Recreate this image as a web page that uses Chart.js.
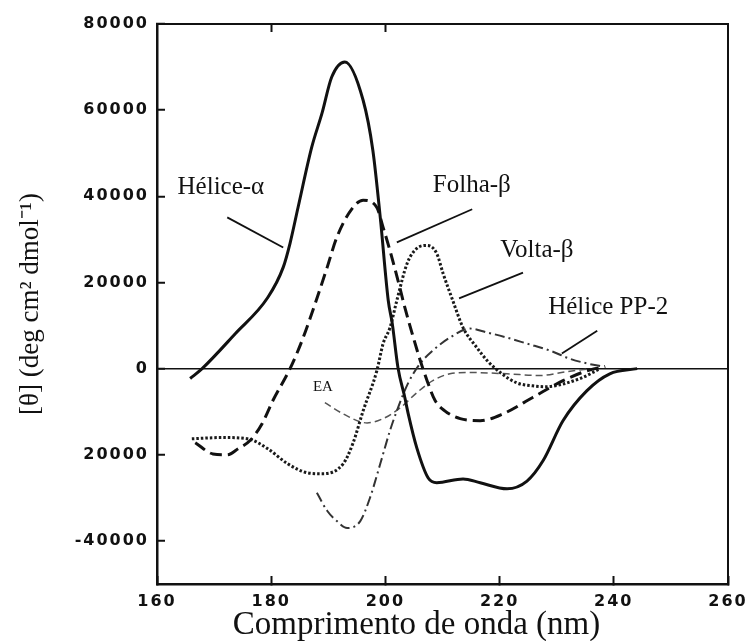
<!DOCTYPE html>
<html lang="pt">
<head>
<meta charset="UTF-8">
<title>Espectros de dicroísmo circular</title>
<script src="https://cdn.jsdelivr.net/npm/chart.js"></script>
<style>
  body { margin: 0; background: #fff; }
  #wrap { width: 748px; height: 641px; }
</style>
</head>
<body>
<div id="wrap"><canvas id="cdChart"></canvas></div>
<script>
  // comprimento de onda (nm) e elipticidade molar [θ] de cada estrutura
  const alfaNm = [165.8, 167.9, 173.7, 179.4, 182.1, 183.3, 184.7, 187.1, 188.9, 190.6, 192.9, 196.1, 197.8, 199.1, 200.5, 201.2, 202.2, 203.4, 204.0, 205.5, 207.5, 209.0, 213.6, 216.6, 221.3, 224.8, 227.6, 231.1, 235.3, 239.3, 244.1];
  const alfaTheta = [-2300, 0, 8100, 16500, 23500, 29100, 37400, 51400, 59300, 67700, 71200, 62300, 50700, 35100, 15800, 10500, 230, -6700, -10500, -18400, -25400, -26500, -25600, -26500, -27900, -26100, -21400, -12100, -5100, -1200, 0];

  const folhaNm = [166.7, 169.8, 172.3, 174.2, 176.3, 178.4, 180.3, 183.3, 185.4, 187.7, 189.8, 191.5, 194.2, 196.1, 198.5, 199.6, 200.8, 202.2, 203.4, 204.7, 206.1, 207.3, 208.7, 210.4, 213.1, 216.6, 220.6, 225.8, 231.1, 235.3, 238.5];
  const folhaTheta = [-17200, -19800, -20000, -18600, -16700, -12800, -7400, 0, 6500, 15100, 23500, 30500, 37200, 39100, 37400, 32800, 27400, 20500, 14200, 8100, 1900, -2800, -7400, -9800, -11600, -12100, -10500, -6700, -2800, -500, 500];

  const voltaNm = [166.1, 171.4, 175.9, 179.4, 182.9, 186.4, 188.9, 192.6, 194.3, 196.1, 198.5, 199.6, 200.8, 202.0, 203.8, 205.5, 207.3, 209.0, 210.1, 211.8, 213.6, 216.0, 217.8, 220.1, 223.0, 225.8, 227.9, 234.1, 237.6];
  const voltaTheta = [-16300, -16000, -16300, -18600, -22100, -24200, -24400, -22100, -17400, -9800, -500, 5800, 9500, 15800, 24400, 27900, 28600, 26700, 22100, 15800, 9500, 4900, 1900, -900, -3300, -4000, -4200, -2300, 0];

  const pp2Nm = [188.0, 189.8, 191.5, 193.3, 195.6, 197.3, 199.1, 200.8, 202.2, 204.0, 206.1, 208.3, 211.3, 214.8, 217.8, 221.3, 224.8, 228.8, 232.3, 235.3, 238.1];
  const pp2Theta = [-28800, -33000, -35400, -37000, -35400, -30000, -22100, -14400, -9100, -3300, 1200, 4200, 7200, 9300, 8400, 7200, 5800, 4200, 2300, 1200, 500];

  const eaNm = [189.4, 192.6, 196.8, 199.6, 202.6, 205.5, 208.3, 211.3, 214.8, 221.3, 227.1, 231.8, 237.6];
  const eaTheta = [-7900, -10500, -12600, -11600, -9100, -5600, -2800, -1200, -900, -1200, -1600, -700, 200];

  const xTicks = [160, 180, 200, 220, 240, 260];
  const topTicks = [180, 200];
  const yTicks = [-40000, -20000, 0, 20000, 40000, 60000, 80000];
  const yTickLabels = ['-40000', '20000', '0', '20000', '40000', '60000', '80000'];

  const xTitle = 'Comprimento de onda (nm)';
  const yTitle = '[θ] (deg cm² dmol⁻¹)';

  // rótulos das curvas e linhas de chamada, em unidades dos eixos
  const curveLabels = [
    { text: 'Hélice-α', x: 163.6, y: 42100, size: 25 },
    { text: 'Folha-β', x: 208.3, y: 42600, size: 25 },
    { text: 'Volta-β', x: 220.1, y: 27400, size: 25 },
    { text: 'Hélice PP-2', x: 228.5, y: 14200, size: 25 },
    { text: 'EA', x: 187.3, y: -4200, size: 15 }
  ];
  const leaders = [
    [172.3, 35100, 182.1, 28100],
    [215.2, 37000, 202.0, 29300],
    [224.1, 22300, 212.9, 16300],
    [237.1, 8800, 230.9, 3500]
  ];

  function pairs(xs, ys) {
    return xs.map((x, i) => ({ x: x, y: ys[i] }));
  }

  const tickFont = { family: 'DejaVu Sans', weight: 'bold', size: 16 };
  const ink = '#111';

  // números dos eixos um pouco espaçados, como na fonte original
  const spacingPlugin = {
    id: 'tickSpacing',
    beforeDraw(chart) { chart.ctx.letterSpacing = '2px'; },
    beforeDatasetsDraw(chart) { chart.ctx.letterSpacing = '0px'; }
  };

  const labelPlugin = {
    id: 'curveLabels',
    afterDatasetsDraw(chart) {
      const { ctx, chartArea, scales: { x, y } } = chart;
      ctx.save();
      ctx.letterSpacing = '0px';
      ctx.strokeStyle = ink;
      ctx.lineWidth = 1.8;
      leaders.forEach(l => {
        ctx.beginPath();
        ctx.moveTo(x.getPixelForValue(l[0]), y.getPixelForValue(l[1]));
        ctx.lineTo(x.getPixelForValue(l[2]), y.getPixelForValue(l[3]));
        ctx.stroke();
      });
      ctx.fillStyle = ink;
      ctx.textAlign = 'left';
      ctx.textBaseline = 'middle';
      curveLabels.forEach(t => {
        ctx.font = t.size + 'px "Liberation Serif"';
        ctx.fillText(t.text, x.getPixelForValue(t.x), y.getPixelForValue(t.y));
      });

      // títulos dos eixos
      ctx.textAlign = 'center';
      ctx.textBaseline = 'alphabetic';
      ctx.font = '33px "Liberation Serif"';
      ctx.fillText(xTitle, (chartArea.left + chartArea.right) / 2 - 26, chart.height - 7);
      ctx.translate(31, (chartArea.top + chartArea.bottom) / 2);
      ctx.rotate(-Math.PI / 2);
      ctx.textBaseline = 'middle';
      ctx.font = '27px "Liberation Serif"';
      ctx.fillText(yTitle, 0, 0);
      ctx.restore();
    }
  };

  const lineBase = { pointRadius: 0, fill: false, cubicInterpolationMode: 'monotone' };

  new Chart(document.getElementById('cdChart'), {
    type: 'line',
    data: {
      datasets: [
        Object.assign({ label: 'Hélice-α', data: pairs(alfaNm, alfaTheta), borderColor: ink, borderWidth: 3 }, lineBase),
        Object.assign({ label: 'Folha-β', data: pairs(folhaNm, folhaTheta), borderColor: ink, borderWidth: 3, borderDash: [12, 6] }, lineBase),
        Object.assign({ label: 'Volta-β', data: pairs(voltaNm, voltaTheta), borderColor: '#1a1a1a', borderWidth: 3, borderDash: [2.5, 2] }, lineBase),
        Object.assign({ label: 'Hélice PP-2', data: pairs(pp2Nm, pp2Theta), borderColor: '#333', borderWidth: 2, borderDash: [10, 4, 2, 4] }, lineBase),
        Object.assign({ label: 'EA', data: pairs(eaNm, eaTheta), borderColor: '#555', borderWidth: 1.5, borderDash: [7, 4] }, lineBase)
      ]
    },
    options: {
      responsive: true,
      maintainAspectRatio: false,
      animation: false,
      layout: { padding: 0 },
      plugins: { legend: { display: false }, tooltip: { enabled: false } },
      scales: {
        x: {
          type: 'linear',
          position: 'bottom',
          min: 160,
          max: 260,
          afterBuildTicks: s => { s.ticks = xTicks.map(v => ({ value: v })); },
          afterFit: s => { s.height = 57; s.paddingLeft = 0; s.paddingRight = 0; },
          ticks: { font: tickFont, color: ink, padding: 16, maxRotation: 0, autoSkip: false },
          grid: { drawOnChartArea: false, tickLength: -8, tickColor: ink, tickWidth: 2 },
          border: { color: ink, width: 2.5 }
        },
        x2: {
          type: 'linear',
          position: 'top',
          min: 160,
          max: 260,
          afterBuildTicks: s => { s.ticks = topTicks.map(v => ({ value: v })); },
          afterFit: s => { s.height = 24; s.paddingLeft = 0; s.paddingRight = 0; },
          ticks: { display: false },
          grid: { drawOnChartArea: false, tickLength: -8, tickColor: ink, tickWidth: 2 },
          border: { color: ink, width: 2 }
        },
        y: {
          type: 'linear',
          position: 'left',
          min: -50000,
          max: 80000,
          afterBuildTicks: s => { s.ticks = yTicks.map(v => ({ value: v })); },
          afterFit: s => { s.width = 157; s.paddingTop = 0; s.paddingBottom = 0; },
          ticks: {
            font: tickFont,
            color: ink,
            padding: 16,
            callback: v => yTickLabels[yTicks.indexOf(v)]
          },
          grid: {
            drawOnChartArea: true,
            color: c => (c.tick && c.tick.value === 0 ? ink : 'rgba(0,0,0,0)'),
            lineWidth: 1.5,
            tickLength: -8,
            tickColor: ink,
            tickWidth: 2
          },
          border: { color: ink, width: 2.5 }
        },
        y2: {
          type: 'linear',
          position: 'right',
          min: -50000,
          max: 80000,
          afterFit: s => { s.width = 20; s.paddingTop = 0; s.paddingBottom = 0; },
          ticks: { display: false },
          grid: { display: false },
          border: { color: ink, width: 2 }
        }
      }
    },
    plugins: [spacingPlugin, labelPlugin]
  });
</script>
</body>
</html>
